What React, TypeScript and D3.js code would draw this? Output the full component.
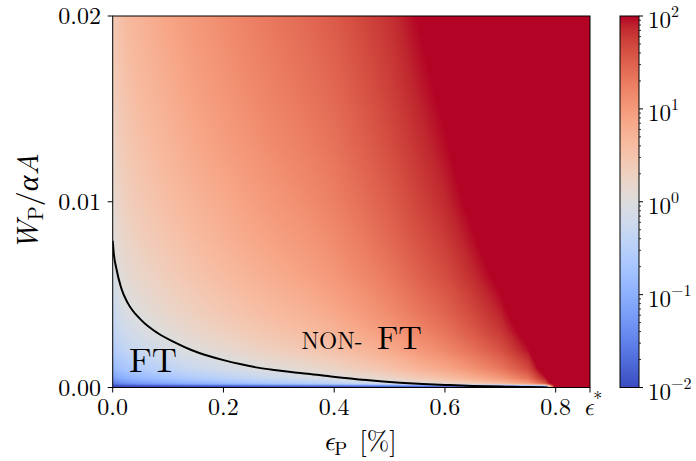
import React, { useMemo } from 'react';
import * as d3 from 'd3';

const W = 696;
const H = 461;
const PL = 112.7, PR = 590, PT = 16, PB = 387.5;
const CBL = 620, CBR = 639;

// grid of log10(value)
const epsCols = [0, 0.01, 0.025, 0.05, 0.1, 0.15, 0.2, 0.25, 0.3, 0.35, 0.4, 0.45, 0.5, 0.55, 0.6, 0.65, 0.7, 0.75, 0.78, 0.8, 0.83, 0.862];
const wRows = [0, 0.0002, 0.0005, 0.001, 0.002, 0.003, 0.004, 0.006, 0.008, 0.010, 0.013, 0.016, 0.020];
const logRatioByCol = [
  [-2.5, -1.60, -1.20, -0.90, -0.60, -0.43, -0.30, -0.13, 0.00, 0.10, 0.21, 0.30, 0.40],
  [-2.5, -1.48, -1.08, -0.78, -0.48, -0.30, -0.18, 0.00, 0.13, 0.22, 0.34, 0.43, 0.52],
  [-2.5, -1.37, -0.97, -0.67, -0.37, -0.20, -0.07, 0.11, 0.23, 0.33, 0.44, 0.53, 0.63],
  [-2.5, -1.27, -0.87, -0.57, -0.27, -0.09, 0.03, 0.21, 0.34, 0.43, 0.55, 0.64, 0.73],
  [-2.5, -1.11, -0.72, -0.42, -0.11, 0.06, 0.19, 0.36, 0.49, 0.59, 0.70, 0.79, 0.89],
  [-2.5, -0.98, -0.58, -0.28, 0.02, 0.20, 0.32, 0.50, 0.62, 0.72, 0.84, 0.93, 1.02],
  [-2.5, -0.87, -0.47, -0.17, 0.13, 0.31, 0.44, 0.61, 0.74, 0.83, 0.95, 1.04, 1.13],
  [-2.5, -0.76, -0.36, -0.06, 0.24, 0.42, 0.55, 0.72, 0.85, 0.94, 1.06, 1.15, 1.24],
  [-2.5, -0.66, -0.26, 0.04, 0.34, 0.52, 0.64, 0.82, 0.94, 1.04, 1.16, 1.25, 1.34],
  [-2.5, -0.57, -0.17, 0.13, 0.43, 0.61, 0.73, 0.91, 1.03, 1.13, 1.25, 1.34, 1.43],
  [-2.5, -0.46, -0.06, 0.24, 0.54, 0.71, 0.84, 1.02, 1.14, 1.24, 1.35, 1.44, 1.54],
  [-2.5, -0.32, 0.08, 0.38, 0.68, 0.85, 0.98, 1.16, 1.28, 1.38, 1.49, 1.58, 1.68],
  [-2.5, -0.18, 0.22, 0.52, 0.82, 1.00, 1.13, 1.30, 1.43, 1.52, 1.64, 1.73, 1.82],
  [-2.5, 0.00, 0.40, 0.70, 1.00, 1.18, 1.30, 1.48, 1.60, 1.70, 1.81, 1.90, 2.00],
  [-2.5, 0.16, 0.56, 0.86, 1.16, 1.34, 1.46, 1.64, 1.76, 1.86, 1.97, 2.06, 2.16],
  [-2.5, 0.37, 0.77, 1.07, 1.37, 1.55, 1.67, 1.85, 1.97, 2.07, 2.19, 2.28, 2.37],
  [-2.5, 0.60, 1.00, 1.30, 1.60, 1.78, 1.90, 2.08, 2.20, 2.30, 2.42, 2.5, 2.5],
  [-2.5, 0.96, 1.36, 1.66, 1.96, 2.14, 2.26, 2.44, 2.5, 2.5, 2.5, 2.5, 2.5],
  [-2.5, 1.52, 1.92, 2.22, 2.5, 2.5, 2.5, 2.5, 2.5, 2.5, 2.5, 2.5, 2.5],
  [2.5, 2.5, 2.5, 2.5, 2.5, 2.5, 2.5, 2.5, 2.5, 2.5, 2.5, 2.5, 2.5],
  [2.5, 2.5, 2.5, 2.5, 2.5, 2.5, 2.5, 2.5, 2.5, 2.5, 2.5, 2.5, 2.5],
  [2.5, 2.5, 2.5, 2.5, 2.5, 2.5, 2.5, 2.5, 2.5, 2.5, 2.5, 2.5, 2.5],
];

// boundary curve
const curveEps = [0, 0.002, 0.0065, 0.0155, 0.0276, 0.0516, 0.0818, 0.112, 0.142, 0.172, 0.202, 0.232, 0.262, 0.292, 0.322, 0.352, 0.398, 0.458, 0.519, 0.56, 0.603, 0.65, 0.7, 0.723, 0.75, 0.77, 0.786];
const curveW = [0.0079, 0.0072, 0.00642, 0.00534, 0.00453, 0.00363, 0.00292, 0.00243, 0.00202, 0.00171, 0.00146, 0.00125, 0.00107, 0.00094, 0.00083, 0.00074, 0.00058, 0.0004, 0.00026, 0.00019, 0.000135, 0.000085, 0.00005, 0.00004, 0.000022, 0.00001, 0];

const xTicks = [0, 0.2, 0.4, 0.6, 0.8];
const xTickLabels = ['0.0', '0.2', '0.4', '0.6', '0.8'];
const epsStar = 0.862;
const yTicks = [0, 0.01, 0.02];
const yTickLabels = ['0.00', '0.01', '0.02'];
const cbExponents = [-2, -1, 0, 1, 2];
const cbExpLabels = ['\u22122', '\u22121', '0', '1', '2'];

const coolwarm = [
  '#3b4cc0', '#445acc', '#4d68d7', '#5775e1', '#6282ea', '#6c8ef1', '#779af7', '#82a5fb',
  '#8db0fe', '#98b9ff', '#a3c2ff', '#aec9fd', '#b8d0f9', '#c2d5f4', '#ccd9ee', '#d5dbe6',
  '#dddddd', '#e5d8d1', '#ecd3c5', '#f1ccb9', '#f5c4ad', '#f7bba0', '#f7b194', '#f7a687',
  '#f49a7b', '#f18d6f', '#ec7f63', '#e57058', '#de604d', '#d55042', '#cb3e38', '#c0282f',
  '#b40426',
];

const FONT = "'Latin Modern Roman'";
const MATH = "'Latin Modern Math', 'Latin Modern Roman'";

export default function App() {
  const x = d3.scaleLinear().domain([0, epsStar]).range([PL, PR]);
  const y = d3.scaleLinear().domain([0, 0.02]).range([PB, PT]);
  const cbY = d3.scaleLinear().domain([-2, 2]).range([PB, PT]);
  const stopPos = coolwarm.map((_, k) => -2 + (4 * k) / (coolwarm.length - 1));
  const color = d3.scaleLinear<string>().domain(stopPos).range(coolwarm).interpolate(d3.interpolateRgb).clamp(true);

  const imgURL = useMemo(() => {
    const pw = Math.round(PR - PL);
    const ph = Math.round(PB - PT);
    const canvas = document.createElement('canvas');
    canvas.width = pw;
    canvas.height = ph;
    const ctx = canvas.getContext('2d');
    if (!ctx) return '';
    const img = ctx.createImageData(pw, ph);
    const nc = epsCols.length, nr = wRows.length;
    for (let py = 0; py < ph; py++) {
      const wv = y.invert(PT + ((py + 0.5) * (PB - PT)) / ph);
      let j = Math.max(0, Math.min(nr - 2, d3.bisectRight(wRows, wv) - 1));
      let ty = (wv - wRows[j]) / (wRows[j + 1] - wRows[j]);
      ty = Math.max(0, Math.min(1, ty));
      for (let px = 0; px < pw; px++) {
        const ev = x.invert(PL + ((px + 0.5) * (PR - PL)) / pw);
        let i = Math.max(0, Math.min(nc - 2, d3.bisectRight(epsCols, ev) - 1));
        let tx = (ev - epsCols[i]) / (epsCols[i + 1] - epsCols[i]);
        tx = Math.max(0, Math.min(1, tx));
        const a = logRatioByCol[i][j], b = logRatioByCol[i + 1][j];
        const c = logRatioByCol[i][j + 1], d = logRatioByCol[i + 1][j + 1];
        const v = (a * (1 - tx) + b * tx) * (1 - ty) + (c * (1 - tx) + d * tx) * ty;
        const col = d3.rgb(color(v));
        const o = (py * pw + px) * 4;
        img.data[o] = col.r;
        img.data[o + 1] = col.g;
        img.data[o + 2] = col.b;
        img.data[o + 3] = 255;
      }
    }
    ctx.putImageData(img, 0, 0);
    return canvas.toDataURL();
  }, []);

  const line = d3.line<number>()
    .x((_, k) => x(curveEps[k]))
    .y((_, k) => y(curveW[k]))
    .curve(d3.curveMonotoneX);
  const curvePath = line(curveEps) || '';

  const minorTicks: number[] = [];
  for (let dcd = -2; dcd < 2; dcd++) {
    for (let m = 2; m <= 9; m++) minorTicks.push(dcd + Math.log10(m));
  }

  const ff = { fontFamily: FONT } as React.CSSProperties;
  const mf = { fontFamily: MATH, fontStyle: 'italic' } as React.CSSProperties;

  return (
    <svg width={W} height={H} style={{ position: 'absolute', left: 0, top: 0, background: '#fff' }}>
      <defs>
        <linearGradient id="cbgrad" x1="0" y1="1" x2="0" y2="0">
          {coolwarm.map((c, k) => (
            <stop key={k} offset={`${(100 * k) / (coolwarm.length - 1)}%`} stopColor={c} />
          ))}
        </linearGradient>
        <clipPath id="plotclip">
          <rect x={PL} y={PT} width={PR - PL} height={PB - PT} />
        </clipPath>
      </defs>
      <rect x={0} y={0} width={W} height={H} fill="#fff" />
      {imgURL && (
        <image href={imgURL} x={PL} y={PT} width={PR - PL} height={PB - PT} preserveAspectRatio="none" />
      )}
      <path d={curvePath} fill="none" stroke="#000" strokeWidth={2} clipPath="url(#plotclip)" />

      {/* region labels */}
      <text x={129} y={372} style={ff} fontSize={34} textLength={48} lengthAdjust="spacingAndGlyphs" fill="#000">FT</text>
      <text x={301.5} y={348.5} style={ff} fontSize={24} textLength={61} lengthAdjust="spacingAndGlyphs" fill="#000">NON-</text>
      <text x={377} y={348.5} style={ff} fontSize={33} textLength={45} lengthAdjust="spacingAndGlyphs" fill="#000">FT</text>

      {/* frame */}
      <rect x={PL} y={PT} width={PR - PL} height={PB - PT} fill="none" stroke="#000" strokeWidth={1} />

      {/* x ticks */}
      {xTicks.map((t, k) => (
        <g key={k}>
          <line x1={x(t)} x2={x(t)} y1={PB} y2={PB + 5} stroke="#000" strokeWidth={1} />
          <text x={x(t)} y={415} textAnchor="middle" style={ff} fontSize={24} fill="#000">{xTickLabels[k]}</text>
        </g>
      ))}
      <line x1={x(epsStar)} x2={x(epsStar)} y1={PB} y2={PB + 5} stroke="#000" strokeWidth={1} />
      <text x={583} y={415} style={ff} fontSize={25} fill="#000">
        <tspan style={mf}>ϵ</tspan>
        <tspan fontSize={18} dy={-10}>*</tspan>
      </text>

      {/* y ticks */}
      {yTicks.map((t, k) => (
        <g key={k}>
          <line x1={PL - 5} x2={PL} y1={y(t)} y2={y(t)} stroke="#000" strokeWidth={1} />
          <text x={101} y={y(t) + 8} textAnchor="end" style={ff} fontSize={24} fill="#000">{yTickLabels[k]}</text>
        </g>
      ))}

      {/* x label */}
      <text x={323} y={450} style={ff} fontSize={27} fill="#000">
        <tspan style={mf}>ϵ</tspan>
        <tspan fontSize={19} dy={5}>P</tspan>
        <tspan dy={-5} dx={12}>[%]</tspan>
      </text>

      {/* y label */}
      <g transform={`translate(38, ${(PT + PB) / 2}) rotate(-90)`}>
        <text x={0} y={0} textAnchor="middle" style={ff} fontSize={30} fill="#000">
          <tspan fontStyle="italic">W</tspan>
          <tspan fontSize={21} dy={5}>P</tspan>
          <tspan dy={-5}>/</tspan>
          <tspan fontStyle="italic">αA</tspan>
        </text>
      </g>

      {/* colorbar */}
      <rect x={CBL} y={PT} width={CBR - CBL} height={PB - PT} fill="url(#cbgrad)" />
      <rect x={CBL} y={PT} width={CBR - CBL} height={PB - PT} fill="none" stroke="#000" strokeWidth={1} />
      {minorTicks.map((t, k) => (
        <line key={k} x1={CBR} x2={CBR + 2} y1={cbY(t)} y2={cbY(t)} stroke="#000" strokeWidth={0.8} />
      ))}
      {cbExponents.map((e, k) => (
        <g key={k}>
          <line x1={CBR} x2={CBR + 4} y1={cbY(e)} y2={cbY(e)} stroke="#000" strokeWidth={1} />
          <text x={648} y={cbY(e) + 12} style={ff} fontSize={23} fill="#000">
            10<tspan fontSize={16} dy={-11}>{cbExpLabels[k]}</tspan>
          </text>
        </g>
      ))}
    </svg>
  );
}
